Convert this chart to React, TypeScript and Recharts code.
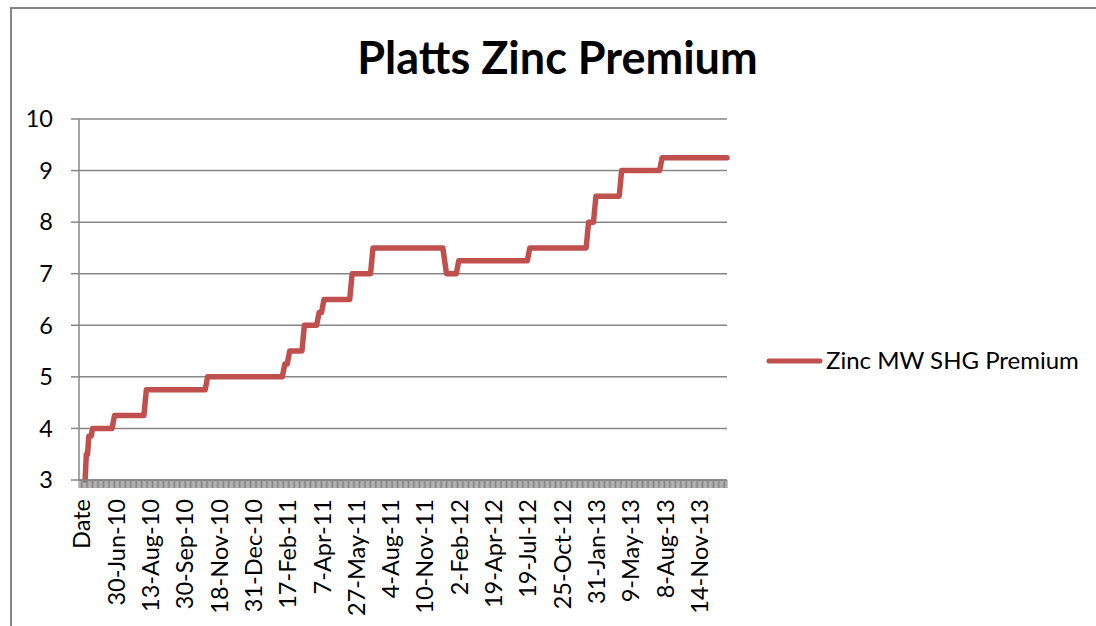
import { CartesianGrid, Legend, Line, LineChart, XAxis, YAxis } from "recharts";

// row positions (category index in the sheet) where the premium changes, and the value there
const rowIndex = [
  5, 6, 7, 8, 10, 11, 27, 29, 53, 55, 103, 105, 166, 168, 170, 172, 182, 184, 194, 196, 198, 200, 221, 223, 238,
  240, 297, 300, 308, 310, 366, 368, 414, 416, 420, 422, 441, 443, 474, 476, 529,
];
const premium = [
  3, 3.5, 3.5, 3.85, 3.85, 4, 4, 4.25, 4.25, 4.75, 4.75, 5, 5, 5.25, 5.25, 5.5, 5.5, 6, 6, 6.25, 6.25, 6.5, 6.5, 7, 7,
  7.5, 7.5, 7, 7, 7.25, 7.25, 7.5, 7.5, 8, 8, 8.5, 8.5, 9, 9, 9.25, 9.25,
];

const dateLabels = [
  "Date",
  "30-Jun-10",
  "13-Aug-10",
  "30-Sep-10",
  "18-Nov-10",
  "31-Dec-10",
  "17-Feb-11",
  "7-Apr-11",
  "27-May-11",
  "4-Aug-11",
  "10-Nov-11",
  "2-Feb-12",
  "19-Apr-12",
  "19-Jul-12",
  "25-Oct-12",
  "31-Jan-13",
  "9-May-13",
  "8-Aug-13",
  "14-Nov-13",
];
const yTicks = [3, 4, 5, 6, 7, 8, 9, 10];

const totalRows = 529;
const labelEvery = 28;
const labelOffset = 2;

const data = rowIndex.map((row, i) => ({ row, value: premium[i] }));
const allTicks = Array.from({ length: totalRows + 1 }, (_, i) => i);

const FONT = "Lato, 'Noto Sans', sans-serif";
const GREY = "#868686";
const RED = "#C0504D";

function DateTick({ x, y, payload }: { x: number; y: number; payload: { value: number } }) {
  const v = payload.value - labelOffset;
  if (v < 0 || v % labelEvery !== 0) return null;
  const label = dateLabels[v / labelEvery];
  if (!label) return null;
  return (
    <text
      x={0}
      y={0}
      transform={`translate(${x + 9},${y + 9}) rotate(-90)`}
      textAnchor="end"
      fill="#000"
      fontSize={23.5}
      fontFamily={FONT}
    >
      {label}
    </text>
  );
}

function LegendContent() {
  return (
    <div style={{ display: "flex", alignItems: "center", height: 30, fontFamily: FONT, fontSize: 24, lineHeight: "30px" }}>
      <svg width={60} height={30}>
        <line x1={5} y1={16} x2={56} y2={16} stroke={RED} strokeWidth={5} strokeLinecap="round" />
      </svg>
      <span style={{ marginLeft: 2, color: "#000", whiteSpace: "nowrap" }}>Zinc MW SHG Premium</span>
    </div>
  );
}

export default function App() {
  return (
    <div style={{ position: "absolute", left: 0, top: 0, width: 1096, height: 626, background: "#fff", overflow: "hidden" }}>
      <div
        style={{
          position: "absolute",
          left: 10,
          top: 7,
          width: 1300,
          height: 800,
          border: `2px solid ${GREY}`,
        }}
      />
      <div
        style={{
          position: "absolute",
          left: 0,
          top: 35,
          width: 1115,
          textAlign: "center",
          fontFamily: FONT,
          fontWeight: 700,
          fontSize: 45,
          lineHeight: 1,
          color: "#000",
        }}
      >
        Platts Zinc Premium
      </div>
      <div style={{ position: "absolute", left: 0, top: 0 }}>
        <LineChart width={1096} height={626} data={data} margin={{ top: 119, right: 39, bottom: 0, left: 0 }}>
          <CartesianGrid vertical={false} stroke={GREY} strokeWidth={1.5} />
          <XAxis
            type="number"
            dataKey="row"
            domain={[0, totalRows]}
            ticks={allTicks}
            interval={0}
            height={146}
            axisLine={{ stroke: GREY, strokeWidth: 1.5 }}
            tickLine={{ stroke: GREY, strokeWidth: 1 }}
            tickSize={8}
            tick={DateTick as any}
          />
          <YAxis
            domain={[3, 10]}
            ticks={yTicks}
            interval={0}
            width={79}
            axisLine={{ stroke: GREY, strokeWidth: 1.5 }}
            tickLine={{ stroke: GREY, strokeWidth: 1.5 }}
            tickSize={8}
            tickMargin={18}
            tick={{ fill: "#000", fontSize: 23.5, fontFamily: FONT }}
          />
          <Legend
            layout="vertical"
            align="right"
            verticalAlign="middle"
            wrapperStyle={{ left: 764, top: 345, width: 330, height: 30 }}
            content={LegendContent}
          />
          <Line
            type="linear"
            dataKey="value"
            stroke={RED}
            strokeWidth={5.5}
            strokeLinejoin="round"
            strokeLinecap="round"
            dot={false}
            activeDot={false}
            isAnimationActive={false}
          />
        </LineChart>
      </div>
    </div>
  );
}
